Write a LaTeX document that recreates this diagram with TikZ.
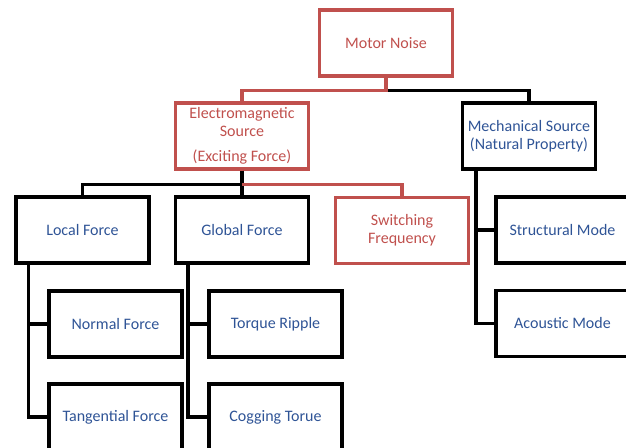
\documentclass[tikz,border=0pt]{standalone}
\usepackage{fontspec}
\setmainfont{Carlito}
\usepackage{xcolor}
\definecolor{boxred}{HTML}{C0504D}
\definecolor{textblue}{HTML}{2F5496}

\begin{document}
\begin{tikzpicture}[x=0.75pt,y=-0.75pt]
\tikzset{box/.style={draw=black,line width=2.4pt,minimum width=99.75pt,minimum height=49.5pt,inner sep=0pt,align=center,text=textblue,font=\fontsize{12pt}{13.5pt}\selectfont}}
\tikzset{redbox/.style={box,draw=boxred,text=boxred}}
\tikzset{link/.style={line width=2.4pt,black}}
\tikzset{redlink/.style={link,boxred}}

\useasboundingbox (0,0) rectangle (626,448);
\clip (0,0) rectangle (626,448);

\node[redbox] (noise) at (386,43) {Motor Noise};
\node[redbox] (em) at (242,136) {Electromagnetic\\Source\\[5.5pt](Exciting Force)};
\node[box] (mech) at (529,136) {Mechanical Source\\(Natural Property)};

\node[box] (local) at (82.5,230) {Local Force};
\node[box] (global) at (242,230) {Global Force};
\node[redbox] (switch) at (402,230.5) {Switching\\Frequency};

\node[box] (normal) at (115.5,324) {Normal Force};
\node[box] (tangent) at (115.5,417) {Tangential Force};
\node[box] (ripple) at (275.5,324) {Torque Ripple};
\node[box] (cogging) at (275.5,417) {Cogging Torue};

\node[box] (struct) at (562.5,230) {Structural Mode};
\node[box] (acoustic) at (562.5,323.5) {Acoustic Mode};

% top level
\draw[link] (noise.south) ++(0,13) -| (mech.north);
\draw[redlink] (noise.south) -- ++(0,13) -| (em.north);

% exciting force
\draw[link] (em.south) -- ++(0,14) coordinate (emx) -| (local.north);
\draw[link] (emx) -- (global.north);
\draw[redlink] (emx) -| (switch.north);

\draw[link] (local.south west) ++(14,0) coordinate (lx) |- (tangent.west);
\draw[link] (lx |- normal.west) -- (normal.west);
\draw[link] (global.south west) ++(14,0) coordinate (gx) |- (cogging.west);
\draw[link] (gx |- ripple.west) -- (ripple.west);

% natural property
\draw[link] (mech.south west) ++(15,0) coordinate (mx) |- (acoustic.west);
\draw[link] (mx |- struct.west) -- (struct.west);

\end{tikzpicture}
\end{document}
